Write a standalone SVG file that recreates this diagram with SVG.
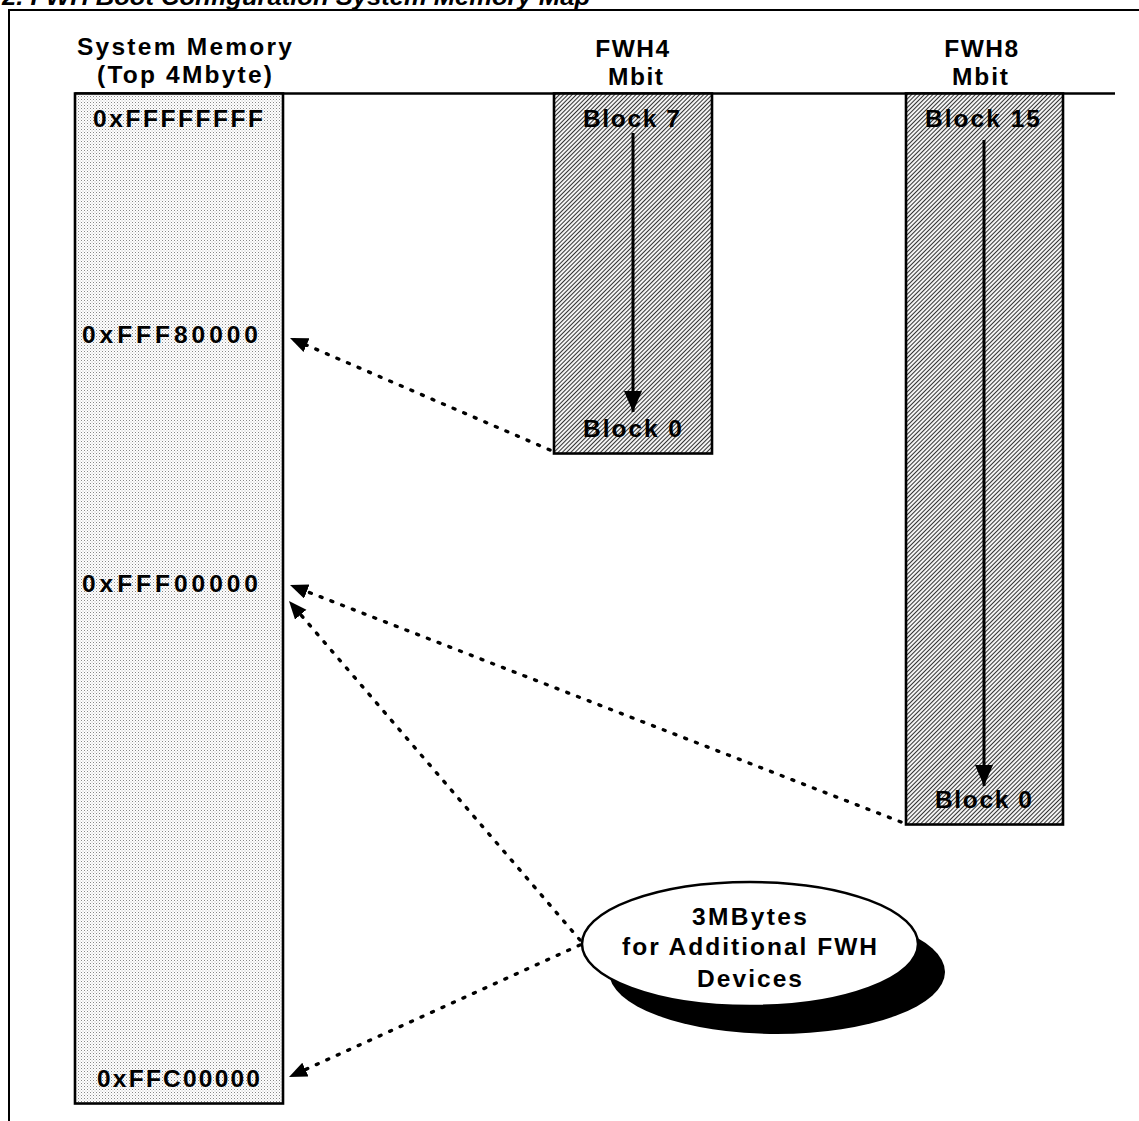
<svg xmlns="http://www.w3.org/2000/svg" width="1139" height="1121" viewBox="0 0 1139 1121">
<style>
.t{font-family:"Liberation Sans",Arial,Helvetica,sans-serif;font-weight:bold;font-size:24.5px;fill:#000}
.c{text-anchor:middle}
.box{stroke:#000;stroke-width:2.6}
.dot{fill:none;stroke:#000;stroke-width:3.4;stroke-linecap:round;stroke-dasharray:2 9.5}
.frame{fill:none;stroke:#000;stroke-width:2}
.arr{stroke:#000;stroke-width:3;fill:none}
</style>
<defs>
<pattern id="dots" width="3" height="3" patternUnits="userSpaceOnUse">
<rect width="3" height="3" fill="#fff"/>
<rect width="1" height="1" fill="#888"/>
<rect x="1.5" y="1.5" width="1" height="1" fill="#bbb"/>
</pattern>
<pattern id="hatch" width="3" height="3" patternUnits="userSpaceOnUse" patternTransform="rotate(45)">
<rect width="3" height="3" fill="#f4f4f4"/>
<rect width="1" height="3" fill="#333"/>
</pattern>
<marker id="ah" markerUnits="userSpaceOnUse" markerWidth="20" markerHeight="16" refX="18" refY="7.5" orient="auto">
<path d="M0,0 L18,7.5 L0,15 z" fill="#000"/>
</marker>
<marker id="av" markerUnits="userSpaceOnUse" markerWidth="22" markerHeight="20" refX="21" refY="9" orient="auto">
<path d="M0,0 L21,9 L0,18 z" fill="#000"/>
</marker>
</defs>
<rect width="1139" height="1121" fill="#fff"/>
<text class="t" x="2" y="5" textLength="588" lengthAdjust="spacingAndGlyphs" font-style="italic">2. FWH Boot Configuration System Memory Map</text>
<path class="frame" d="M9,1121 V10 H1139"/>
<line x1="75" y1="93.5" x2="1115" y2="93.5" stroke="#000" stroke-width="2.6"/>

<g id="node-sysmem">
<text class="t" x="77" y="55" textLength="215" lengthAdjust="spacing">System Memory</text>
<text class="t" x="97" y="83" textLength="175" lengthAdjust="spacing">(Top 4Mbyte)</text>
<rect class="box" x="75" y="93.5" width="208" height="1010" fill="url(#dots)"/>
<text class="t" x="93" y="127" textLength="170" lengthAdjust="spacing">0xFFFFFFFF</text>
<text class="t" x="82" y="343" textLength="176" lengthAdjust="spacing">0xFFF80000</text>
<text class="t" x="82" y="592" textLength="176" lengthAdjust="spacing">0xFFF00000</text>
<text class="t" x="97" y="1087" textLength="163" lengthAdjust="spacing">0xFFC00000</text>
</g>

<g id="node-fwh4">
<text class="t c" x="633" y="57" letter-spacing="1.5">FWH4</text>
<text class="t" x="608" y="85" textLength="55" lengthAdjust="spacing">Mbit</text>
<rect class="box" x="554" y="93.5" width="158" height="360" fill="url(#hatch)"/>
<text class="t" x="583" y="127" textLength="97" lengthAdjust="spacing">Block 7</text>
<text class="t" x="583" y="437" textLength="99" lengthAdjust="spacing">Block 0</text>
</g>

<g id="node-fwh8">
<text class="t c" x="982" y="57" letter-spacing="1.5">FWH8</text>
<text class="t" x="952" y="85" textLength="56" lengthAdjust="spacing">Mbit</text>
<rect class="box" x="906" y="93.5" width="157" height="731" fill="url(#hatch)"/>
<text class="t" x="925" y="127" textLength="115" lengthAdjust="spacing">Block 15</text>
<text class="t" x="935" y="808" textLength="97" lengthAdjust="spacing">Block 0</text>
</g>

<g id="node-ellipse">
<ellipse cx="777" cy="972" rx="168" ry="62" fill="#000"/>
<ellipse cx="750" cy="944" rx="168" ry="62" fill="#fff" stroke="#000" stroke-width="2.5"/>
<text class="t" x="692" y="925" textLength="115" lengthAdjust="spacing">3MBytes</text>
<text class="t" x="622" y="955" textLength="255" lengthAdjust="spacing">for Additional FWH</text>
<text class="t" x="697" y="987" textLength="105" lengthAdjust="spacing">Devices</text>
</g>

<g id="connectors">
<line class="arr" x1="633" y1="133" x2="633" y2="412" marker-end="url(#av)"/>
<line class="arr" x1="984" y1="140" x2="984" y2="786" marker-end="url(#av)"/>
<line class="dot" x1="550" y1="450" x2="290" y2="338" marker-end="url(#ah)"/>
<line class="dot" x1="901" y1="822" x2="290" y2="585" marker-end="url(#ah)"/>
<line class="dot" x1="580" y1="940" x2="289" y2="601" marker-end="url(#ah)"/>
<line class="dot" x1="580" y1="945" x2="289" y2="1077" marker-end="url(#ah)"/>
</g>
</svg>
